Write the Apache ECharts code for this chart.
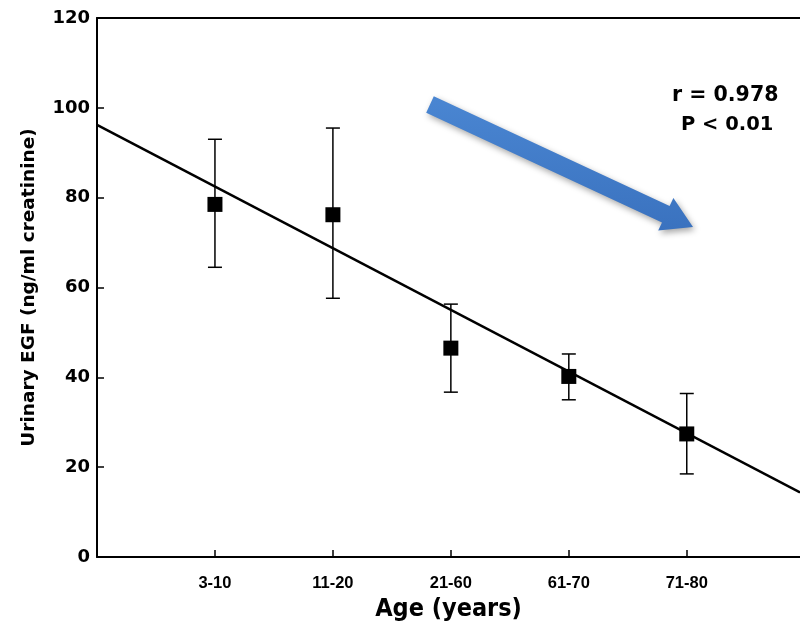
<!DOCTYPE html>
<html>
<head>
<meta charset="utf-8">
<script src="https://cdn.jsdelivr.net/npm/echarts@6/dist/echarts.min.js"></script>
<style>
html,body{margin:0;padding:0;background:#fff;}
#main{width:800px;height:633px;}
</style>
</head>
<body>
<div id="main"></div>
<script>
var categories = ['3-10', '11-20', '21-60', '61-70', '71-80'];
var means = [78.5, 76.2, 46.5, 40.2, 27.4];
var upper = [93.0, 95.5, 56.3, 45.2, 36.4];
var lower = [64.5, 57.6, 36.7, 35.0, 18.5];
var regressionLine = [[0, 96.2], [5.96, 14.4]];
var yTicks = [0, 20, 40, 60, 80, 100, 120];

var WIDE = '"DejaVu Sans", Verdana, sans-serif';
var NARROW = '"Liberation Sans", Arial, sans-serif';
var COND = '"DejaVu Sans Condensed", "DejaVu Sans", sans-serif';
var chart = echarts.init(document.getElementById('main'));

var pointData = means.map(function (v, i) { return [i + 1, v]; });
var errData = means.map(function (v, i) { return [i + 1, lower[i], upper[i]]; });

chart.setOption({
  animation: false,
  backgroundColor: '#fff',
  grid: { left: 97, right: 0, top: 18, bottom: 76 },
  xAxis: [{
    type: 'value',
    min: 0,
    max: 5.96,
    interval: 1,
    name: 'Age (years)',
    nameLocation: 'middle',
    nameGap: 40,
    nameTextStyle: { fontFamily: COND, fontWeight: 'bold', fontSize: 25, color: '#000' },
    axisLine: { show: true, lineStyle: { color: '#000', width: 2 } },
    axisTick: { show: true, inside: true, length: 7, lineStyle: { color: '#000', width: 1.5 }, customValues: [1, 2, 3, 4, 5] },
    axisLabel: {
      customValues: [1, 2, 3, 4, 5],
      formatter: function (v) { return categories[Math.round(v) - 1] || ''; },
      fontFamily: NARROW, fontWeight: 'bold', fontSize: 16.5, color: '#000', margin: 18
    },
    splitLine: { show: false }
  }, {
    type: 'value',
    position: 'top',
    min: 0,
    max: 5.96,
    axisLine: { show: true, onZero: false, lineStyle: { color: '#000', width: 2 } },
    axisTick: { show: false },
    axisLabel: { show: false },
    splitLine: { show: false }
  }],
  yAxis: {
    type: 'value',
    min: yTicks[0],
    max: yTicks[yTicks.length - 1],
    interval: 20,
    name: 'Urinary EGF (ng/ml creatinine)',
    nameLocation: 'middle',
    nameGap: 58,
    nameTextStyle: { fontFamily: WIDE, fontWeight: 'bold', fontSize: 18.5, color: '#000' },
    axisLine: { show: true, lineStyle: { color: '#000', width: 2 } },
    axisTick: { show: true, inside: true, length: 7, lineStyle: { color: '#000', width: 1.5 } },
    axisLabel: { fontFamily: WIDE, fontWeight: 'bold', fontSize: 18, color: '#000', margin: 7 },
    splitLine: { show: false }
  },
  series: [{
    type: 'line',
    data: regressionLine,
    symbol: 'none',
    lineStyle: { color: '#000', width: 2.5 },
    z: 2
  }, {
    type: 'custom',
    data: errData,
    renderItem: function (params, api) {
      var x = api.value(0);
      var lo = api.coord([x, api.value(1)]);
      var hi = api.coord([x, api.value(2)]);
      var hw = 7;
      var st = { stroke: '#000', lineWidth: 1.5 };
      return {
        type: 'group',
        children: [
          { type: 'line', shape: { x1: lo[0], y1: lo[1], x2: hi[0], y2: hi[1] }, style: st },
          { type: 'line', shape: { x1: lo[0] - hw, y1: lo[1], x2: lo[0] + hw, y2: lo[1] }, style: st },
          { type: 'line', shape: { x1: hi[0] - hw, y1: hi[1], x2: hi[0] + hw, y2: hi[1] }, style: st }
        ]
      };
    },
    z: 3
  }, {
    type: 'scatter',
    data: pointData,
    symbol: 'rect',
    symbolSize: 15,
    itemStyle: { color: '#000', opacity: 1 },
    z: 4
  }],
  graphic: [{
    type: 'polygon',
    shape: {
      points: [[433.8, 96.3], [669.6, 206.1], [673.4, 198], [693, 227], [658.2, 230.6], [662, 222.5], [426.2, 112.7]]
    },
    style: {
      fill: new echarts.graphic.LinearGradient(0, 0, 0, 1, [
        { offset: 0, color: '#4a86d2' },
        { offset: 1, color: '#3a72bf' }
      ]),
      shadowBlur: 6,
      shadowOffsetX: 2,
      shadowOffsetY: 3,
      shadowColor: 'rgba(0,0,0,0.35)'
    },
    z: 10
  }, {
    type: 'text',
    x: 672,
    y: 96,
    style: { text: 'r = 0.978', fontFamily: WIDE, fontWeight: 'bold', fontSize: 20.5, fill: '#000', textVerticalAlign: 'middle', verticalAlign: 'middle' },
    z: 10
  }, {
    type: 'text',
    x: 681,
    y: 125,
    style: { text: 'P < 0.01', fontFamily: WIDE, fontWeight: 'bold', fontSize: 19.5, fill: '#000', textVerticalAlign: 'middle', verticalAlign: 'middle' },
    z: 10
  }]
});
</script>
</body>
</html>
